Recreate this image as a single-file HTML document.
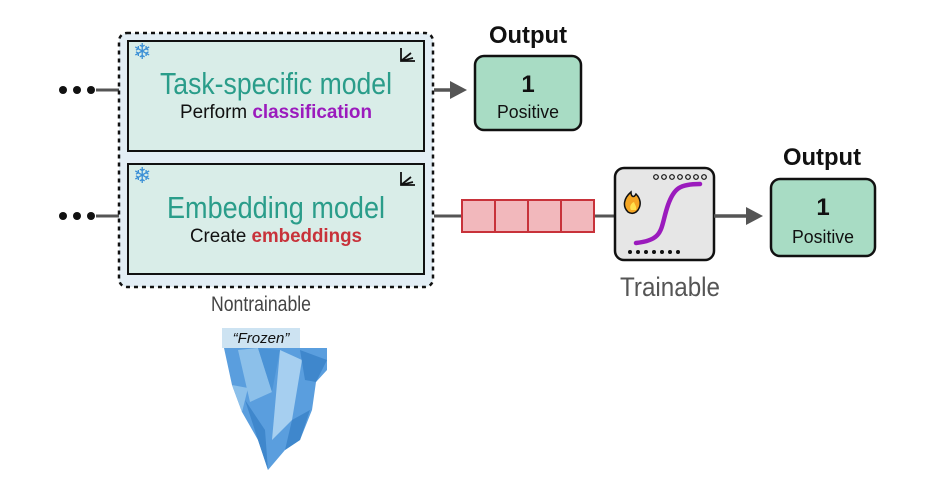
<!DOCTYPE html>
<html><head><meta charset="utf-8"><style>
html,body{margin:0;padding:0;background:#fff;}
svg{display:block;font-family:"Liberation Sans",sans-serif;}
</style></head><body>
<svg width="944" height="480" viewBox="0 0 944 480" xmlns="http://www.w3.org/2000/svg">
<g fill="#111"><circle cx="63" cy="90" r="4"/><circle cx="77" cy="90" r="4"/><circle cx="91" cy="90" r="4"/>
<circle cx="63" cy="216" r="4"/><circle cx="77" cy="216" r="4"/><circle cx="91" cy="216" r="4"/></g>
<line x1="96" y1="90" x2="120" y2="90" stroke="#555" stroke-width="3"/>
<line x1="96" y1="216" x2="120" y2="216" stroke="#555" stroke-width="3"/>
<rect x="119" y="33" width="314" height="254" rx="8" fill="#e3eef5" stroke="#111" stroke-width="2.5" stroke-dasharray="4,4"/>
<rect x="128" y="41" width="296" height="110" fill="#d9ede8" stroke="#111" stroke-width="2"/>
<rect x="128" y="164" width="296" height="110" fill="#d9ede8" stroke="#111" stroke-width="2"/>
<text x="133" y="59" font-size="22" fill="#3a8fd6">❄</text>
<text x="133" y="183" font-size="22" fill="#3a8fd6">❄</text>
<g stroke="#111" stroke-width="1.8" fill="none"><path d="M401 48 v13 h14 M401 61 l10 -8 M401 61 l12 -3"/><path d="M401 172 v13 h14 M401 185 l10 -8 M401 185 l12 -3"/></g>
<text x="276" y="94" font-size="31" fill="#2a9d8a" text-anchor="middle" textLength="232" lengthAdjust="spacingAndGlyphs">Task-specific model</text>
<text x="276" y="118" font-size="19" fill="#111" text-anchor="middle" textLength="192" lengthAdjust="spacingAndGlyphs"><tspan>Perform </tspan><tspan fill="#9b1bbd" font-weight="bold">classification</tspan></text>
<text x="276" y="218" font-size="31" fill="#2a9d8a" text-anchor="middle" textLength="218" lengthAdjust="spacingAndGlyphs">Embedding model</text>
<text x="276" y="242" font-size="19" fill="#111" text-anchor="middle" textLength="172" lengthAdjust="spacingAndGlyphs"><tspan>Create </tspan><tspan fill="#c8323a" font-weight="bold">embeddings</tspan></text>
<line x1="434" y1="90" x2="452" y2="90" stroke="#555" stroke-width="3.5"/>
<polygon points="450,81 467,90 450,99" fill="#555"/>
<text x="528" y="43" font-size="24" font-weight="bold" fill="#111" text-anchor="middle" textLength="78" lengthAdjust="spacingAndGlyphs">Output</text>
<rect x="475" y="56" width="106" height="74" rx="9" fill="#a8dcc4" stroke="#111" stroke-width="2.5"/>
<text x="528" y="92" font-size="24" font-weight="bold" fill="#111" text-anchor="middle">1</text>
<text x="528" y="118" font-size="18" fill="#111" text-anchor="middle" textLength="62" lengthAdjust="spacingAndGlyphs">Positive</text>
<line x1="434" y1="216" x2="614" y2="216" stroke="#555" stroke-width="3"/>
<g fill="#f2b8bc" stroke="#c8323a" stroke-width="2">
<rect x="462" y="200" width="33" height="32"/><rect x="495" y="200" width="33" height="32"/><rect x="528" y="200" width="33" height="32"/><rect x="561" y="200" width="33" height="32"/></g>
<rect x="615" y="168" width="99" height="92" rx="9" fill="#e6e6e6" stroke="#111" stroke-width="2.5"/>
<g fill="none" stroke="#111" stroke-width="1.2"><circle cx="656" cy="177" r="2.3"/><circle cx="664" cy="177" r="2.3"/><circle cx="672" cy="177" r="2.3"/><circle cx="680" cy="177" r="2.3"/><circle cx="688" cy="177" r="2.3"/><circle cx="696" cy="177" r="2.3"/><circle cx="704" cy="177" r="2.3"/></g>
<g fill="#111"><circle cx="630" cy="252" r="2"/><circle cx="638" cy="252" r="2"/><circle cx="646" cy="252" r="2"/><circle cx="654" cy="252" r="2"/><circle cx="662" cy="252" r="2"/><circle cx="670" cy="252" r="2"/><circle cx="678" cy="252" r="2"/></g>
<path d="M636 243 C665 240 660 228 668 205 C674 188 680 184 700 184" stroke="#9b1bbd" stroke-width="4.5" fill="none" stroke-linecap="round"/>
<path d="M628 212 c-6 -6 -4 -14 3 -20 c0 5 3 6 5 2 c4 4 6 10 2 16 c-3 4 -7 4 -10 2z" fill="#f5a623" stroke="#111" stroke-width="1.5"/>
<path d="M631 210 c-2 -3 0 -7 3 -8 c1 3 3 5 2 8z" fill="#ffe14d"/>
<text x="670" y="296" font-size="27" fill="#555" text-anchor="middle" textLength="100" lengthAdjust="spacingAndGlyphs">Trainable</text>
<line x1="714" y1="216" x2="748" y2="216" stroke="#555" stroke-width="3.5"/>
<polygon points="746,207 763,216 746,225" fill="#555"/>
<text x="822" y="165" font-size="24" font-weight="bold" fill="#111" text-anchor="middle" textLength="78" lengthAdjust="spacingAndGlyphs">Output</text>
<rect x="771" y="179" width="104" height="77" rx="9" fill="#a8dcc4" stroke="#111" stroke-width="2.5"/>
<text x="823" y="215" font-size="24" font-weight="bold" fill="#111" text-anchor="middle">1</text>
<text x="823" y="243" font-size="18" fill="#111" text-anchor="middle" textLength="62" lengthAdjust="spacingAndGlyphs">Positive</text>
<text x="261" y="311" font-size="21" fill="#444" text-anchor="middle" textLength="100" lengthAdjust="spacingAndGlyphs">Nontrainable</text>
<rect x="222" y="328" width="78" height="20" fill="#cde3f2"/>
<text x="261" y="343" font-size="15" font-style="italic" fill="#111" text-anchor="middle">“Frozen”</text>
<polygon points="224,348 327,348 327,370 316,382 312,410 300,440 285,450 268,470 258,440 242,412 232,385" fill="#5a9ede"/>
<polygon points="238,350 258,348 272,392 250,402" fill="#8cc0ea"/>
<polygon points="280,350 302,360 292,420 272,440" fill="#a6cff0"/>
<polygon points="245,400 265,430 268,470 258,440" fill="#3f87cc"/>
<polygon points="300,350 327,360 316,382 305,380" fill="#3f87cc"/>
<polygon points="232,385 248,388 242,412" fill="#8cc0ea"/>
<polygon points="292,420 310,410 300,440 285,450" fill="#3f87cc"/>
<polygon points="258,348 280,350 272,392" fill="#4b93d6"/>
</svg>
</body></html>
